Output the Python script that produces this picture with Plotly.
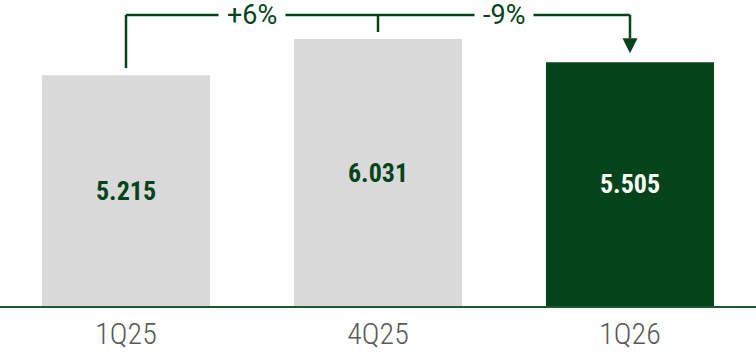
import plotly.graph_objects as go

categories = ["1Q25", "4Q25", "1Q26"]
values = [5.215, 6.031, 5.505]
value_labels = ["5.215", "6.031", "5.505"]
bar_colors = ["#d9d9d9", "#d9d9d9", "#05441a"]
text_colors = ["#05441a", "#05441a", "#ffffff"]
changes = ["+6%", "-9%"]

GREEN = "#05441a"
FONT = "Roboto Condensed, Arial Narrow, sans-serif"
FONT_PCT = "Roboto, sans-serif"

W, H = 756, 356
M_T, M_B = 0, 50
plot_h = H - M_T - M_B
y_max = 6.912
px_y = y_max / plot_h  # data units per pixel (vertical)
px_x = 3.0 / W        # data units per pixel (horizontal)

xs = list(range(len(categories)))

fig = go.Figure()
fig.add_trace(go.Bar(
    x=xs, y=values,
    marker=dict(color=bar_colors, line=dict(width=0)),
    width=0.667,
    text=value_labels,
    textposition="inside",
    insidetextanchor="middle",
    textangle=0,
    textfont=dict(family=FONT, size=26, color=text_colors, weight="bold"),
    hoverinfo="skip",
))

bracket_y = y_max - 15 * px_y
line_style = dict(color=GREEN, width=2.5)
# left vertical from above 1Q25 to bracket
fig.add_shape(type="line", x0=0, x1=0, y0=values[0] + 7 * px_y, y1=bracket_y, line=line_style)
# horizontal bracket
fig.add_shape(type="line", x0=0, x1=2, y0=bracket_y, y1=bracket_y, line=line_style)
# middle tick above 4Q25
fig.add_shape(type="line", x0=1, x1=1, y0=values[1] + 7 * px_y, y1=bracket_y, line=line_style)
# right arrow shaft
tip = values[2] + 9 * px_y
head_h = 15 * px_y
head_w = 7.5 * px_x
fig.add_shape(type="line", x0=2, x1=2, y0=tip + head_h, y1=bracket_y, line=line_style)
fig.add_shape(type="path",
              path=f"M {2 - head_w} {tip + head_h} L {2 + head_w} {tip + head_h} L 2 {tip} Z",
              fillcolor=GREEN, line=dict(width=0))

for i, ch in enumerate(changes):
    fig.add_annotation(x=i + 0.5, y=bracket_y, text=ch, showarrow=False,
                       font=dict(family=FONT_PCT, size=27, color=GREEN),
                       bgcolor="white", borderpad=8, xanchor="center", yanchor="middle")

fig.update_layout(
    width=W, height=H,
    margin=dict(l=0, r=0, t=M_T, b=M_B),
    plot_bgcolor="white", paper_bgcolor="white",
    showlegend=False,
    bargap=0.333,
    xaxis=dict(range=[-0.5, 2.5], tickvals=xs, ticktext=categories,
               tickfont=dict(family=FONT, size=30, color="#595959", weight=300),
               showgrid=False, zeroline=False, showline=True,
               linecolor="#1f5a2e", linewidth=2, ticks="", fixedrange=True),
    yaxis=dict(range=[0, y_max], visible=False, fixedrange=True),
)

fig.write_html("out.html", config={"displayModeBar": False})
